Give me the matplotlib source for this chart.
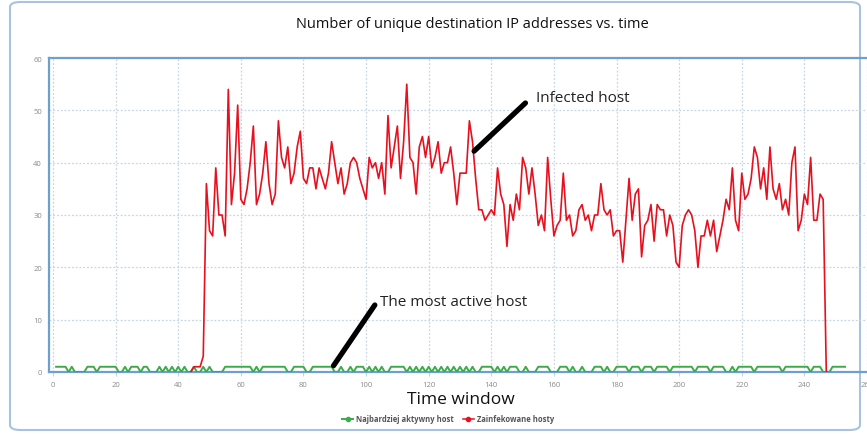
import matplotlib
matplotlib.use('Agg')
import matplotlib.pyplot as plt
from matplotlib.patches import FancyBboxPatch

# Unique destination IPs per time window

TITLE = 'Number of unique destination IP addresses vs. time'
X_LABEL = 'Time window'
LEGEND_GREEN = 'Najbardziej aktywny host'
LEGEND_RED = 'Zainfekowane hosty'
NOTE_INFECTED = 'Infected host'
NOTE_ACTIVE = 'The most active host'

x_ticks = [0, 20, 40, 60, 80, 100, 120, 140, 160, 180, 200, 220, 240, 260]
y_ticks = [0, 10, 20, 30, 40, 50, 60]

# most active host, windows 1..253
green_start = 1
green_vals = [
    1, 1, 1, 1, 0, 1, 0, 0, 0, 0,
    1, 1, 1, 0, 1, 1, 1, 1, 1, 1,
    0, 0, 1, 0, 1, 1, 1, 0, 1, 1,
    0, 0, 0, 1, 0, 1, 0, 1, 0, 1,
    0, 1, 0, 0, 1, 0, 0, 1, 0, 1,
    0, 0, 0, 0, 1, 1, 1, 1, 1, 1,
    1, 1, 1, 0, 1, 0, 1, 1, 1, 1,
    1, 1, 1, 1, 0, 0, 1, 1, 1, 1,
    0, 0, 1, 1, 1, 1, 1, 1, 1, 0,
    0, 1, 0, 0, 1, 0, 1, 1, 1, 0,
    1, 0, 1, 0, 1, 0, 0, 1, 1, 1,
    1, 1, 0, 1, 0, 1, 0, 1, 0, 1,
    0, 1, 0, 1, 0, 1, 0, 1, 0, 1,
    0, 1, 0, 1, 0, 0, 1, 1, 1, 1,
    0, 1, 0, 1, 0, 1, 1, 1, 0, 0,
    1, 0, 0, 0, 1, 1, 1, 1, 0, 0,
    0, 1, 1, 1, 0, 1, 0, 0, 1, 0,
    0, 0, 1, 1, 1, 0, 1, 0, 0, 1,
    1, 1, 1, 0, 1, 1, 1, 0, 1, 1,
    1, 0, 1, 1, 1, 1, 0, 1, 1, 1,
    1, 1, 1, 1, 0, 1, 1, 1, 1, 0,
    1, 1, 1, 1, 0, 0, 1, 0, 1, 1,
    1, 1, 1, 0, 1, 1, 1, 1, 1, 1,
    1, 1, 0, 1, 1, 1, 1, 1, 1, 1,
    1, 0, 1, 1, 1, 0, 0, 0, 1, 1,
    1, 1, 1,
]

# infected hosts, windows 44..247
red_start = 44
red_vals = [
    0, 1, 1, 1, 3, 36,
    27, 26, 39, 30, 30, 26, 54, 32, 38, 51, 33,
    32, 35, 40, 47, 32, 34, 38, 44, 36, 32,
    34, 48, 41, 39, 43, 36, 38, 43, 46, 37,
    36, 39, 39, 35, 39, 37, 35, 38, 44, 40,
    36, 39, 34, 36, 40, 41, 40, 37, 35, 33,
    41, 39, 40, 37, 40, 34, 49, 39, 43, 47,
    37, 44, 55, 41, 40, 34, 43, 45, 41, 45,
    39, 41, 44, 38, 40, 40, 43, 38, 32, 38,
    38, 38, 48, 44, 37, 31, 31, 29, 30, 31,
    30, 39, 34, 32, 24, 32, 29, 34, 31, 41,
    39, 34, 39, 34, 28, 30, 27, 41, 33, 26,
    28, 29, 38, 29, 30, 26, 27, 31, 32, 29,
    30, 27, 30, 30, 36, 31, 30, 31, 26, 27,
    27, 21, 29, 37, 29, 34, 35, 22, 28, 29,
    32, 25, 32, 31, 31, 26, 30, 28, 21, 20,
    28, 30, 31, 30, 27, 20, 26, 26, 29, 26,
    29, 23, 26, 29, 33, 31, 39, 29, 27, 38,
    33, 34, 37, 43, 41, 35, 39, 33, 43, 35,
    33, 36, 31, 33, 30, 40, 43, 27, 29, 34,
    32, 41, 29, 29, 34, 33, 0,
]

# pointer annotations: (tip, tail) of each black stroke, and label anchor
infected_tip = (134.5, 42.2)
infected_tail = (150.9, 51.4)
infected_label = (154.4, 52.4)
active_tip = (89.6, 1.2)
active_tail = (102.8, 12.8)
active_label = (104.4, 13.4)

green_x = list(range(green_start, green_start + len(green_vals)))
red_x = list(range(red_start, red_start + len(red_vals)))

GREEN = '#3aad48'
RED = '#e8101e'
BLUE = '#6f9fcf'
GRID = '#c5d6e6'
TICK_TXT = '#8a8a8a'

plt.rcParams['font.family'] = ['Open Sans', 'DejaVu Sans']

W, H = 867, 435
fig = plt.figure(figsize=(W / 100, H / 100), dpi=100)

# rounded panel around the whole chart, kept behind the axes
panel = FancyBboxPatch((10 / W, 4 / H), 850 / W, 428 / H,
                       boxstyle='round,pad=0,rounding_size=0.012',
                       transform=fig.transFigure, facecolor='white',
                       edgecolor='#a8c3df', linewidth=1.5, zorder=-10)
fig.patches.append(panel)

ax = fig.add_axes([49 / W, (H - 373) / H, (W - 49) / W, 314 / H])
ax.set_facecolor('none')
ax.set_zorder(5)

ax.plot(green_x, green_vals, color=GREEN, linewidth=1.4, zorder=3)
ax.plot(red_x, red_vals, color=RED, linewidth=1.2, zorder=4)

ax.set_xlim(-1.27, 257.6)
ax.set_ylim(0, 60)
ax.set_xticks(x_ticks)
ax.set_yticks(y_ticks)
ax.tick_params(axis='both', labelsize=5.5, labelcolor=TICK_TXT, color=GRID,
               length=3, width=0.8)
ax.tick_params(axis='y', length=0, pad=5)
ax.grid(True, color=GRID, linestyle=(0, (1.5, 1.5)), linewidth=0.9)

for side in ['left', 'top', 'bottom']:
    ax.spines[side].set_color(BLUE)
    ax.spines[side].set_linewidth(1.6)
ax.spines['right'].set_visible(False)

fig.text(472 / W, 1 - 24 / H, TITLE, ha='center', va='center', fontsize=10.5,
         color='#111111')
fig.text(461 / W, 1 - 400 / H, X_LABEL, ha='center', va='center', fontsize=12.5,
         color='#111111')

# black strokes + labels
for tip, tail in [(infected_tip, infected_tail), (active_tip, active_tail)]:
    ax.annotate('', xy=tip, xytext=tail,
                arrowprops=dict(arrowstyle='-', color='black', lw=3.8,
                                shrinkA=0, shrinkB=0, capstyle='round'),
                zorder=6)
ax.text(*infected_label, NOTE_INFECTED, fontsize=11, va='center', ha='left',
        color='#222222')
ax.text(*active_label, NOTE_ACTIVE, fontsize=11, va='center', ha='left',
        color='#222222')

green_h, = ax.plot([], [], color=GREEN, marker='o', markersize=3, linewidth=1.4)
red_h, = ax.plot([], [], color=RED, marker='o', markersize=3, linewidth=1.1)
fig.legend([green_h, red_h], [LEGEND_GREEN, LEGEND_RED],
           loc='center', bbox_to_anchor=(448 / W, 1 - 420 / H), ncol=2,
           frameon=False, handlelength=1.4, columnspacing=1.2, handletextpad=0.4,
           prop={'size': 5.5, 'weight': 'bold'}, labelcolor='#555555')

fig.savefig('out.png', dpi=100)
